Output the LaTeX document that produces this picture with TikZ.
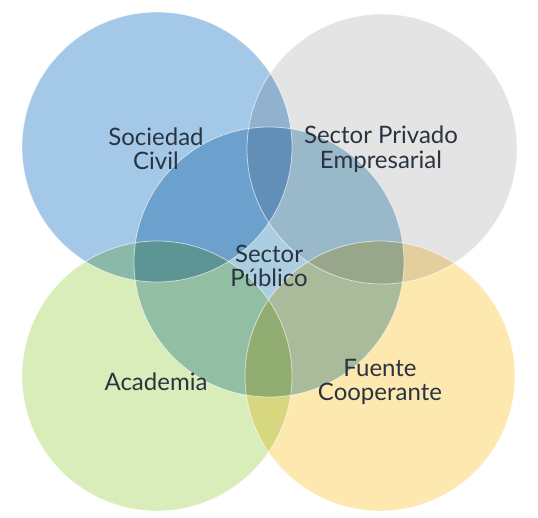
\documentclass[tikz,border=0pt]{standalone}
\usepackage{fontspec}
\setmainfont{Lato}
\definecolor{cblue}{RGB}{163,200,232}
\definecolor{cgray}{RGB}{228,228,228}
\definecolor{cgreen}{RGB}{217,237,186}
\definecolor{cyellow}{RGB}{253,232,176}
\definecolor{ccenter}{RGB}{172,206,226}
\definecolor{txt}{RGB}{42,52,64}
\begin{document}
\begin{tikzpicture}[x=1pt,y=-1pt,
  blob/.style={circle, minimum size=270pt, inner sep=0pt, draw=none},
  rim/.style={circle, minimum size=270pt, inner sep=0pt, draw=white, draw opacity=0.6, line width=0.8pt},
  lbl/.style={font=\fontsize{24}{24.5}\selectfont, text=txt, align=center, inner sep=0pt}]
\useasboundingbox (0,0) rectangle (538,517);
\begin{scope}[blend group=multiply]
  \node[blob, fill=cblue]   (sc) at (157,147) {};
  \node[blob, fill=cgray]   (sp) at (382,149) {};
  \node[blob, fill=cgreen]  (ac) at (157,376) {};
  \node[blob, fill=cyellow] (fc) at (380,376) {};
  \node[blob, fill=ccenter] (pu) at (269,262) {};
\end{scope}
\node[rim] (rsc) at (sc) {};
\node[rim] (rsp) at (sp) {};
\node[rim] (rac) at (ac) {};
\node[rim] (rfc) at (fc) {};
\node[rim] (rpu) at (pu) {};
\node[lbl] (tsc) at (156,149) {Sociedad\\Civil};
\node[lbl] (tsp) at (381,149) {Sector Privado\\Empresarial};
\node[lbl] (tpu) at (269,266) {Sector\\Público};
\node[lbl] (tac) at (156,382) {Academia};
\node[lbl] (tfc) at (380,382) {Fuente\\Cooperante};
\end{tikzpicture}
\end{document}
